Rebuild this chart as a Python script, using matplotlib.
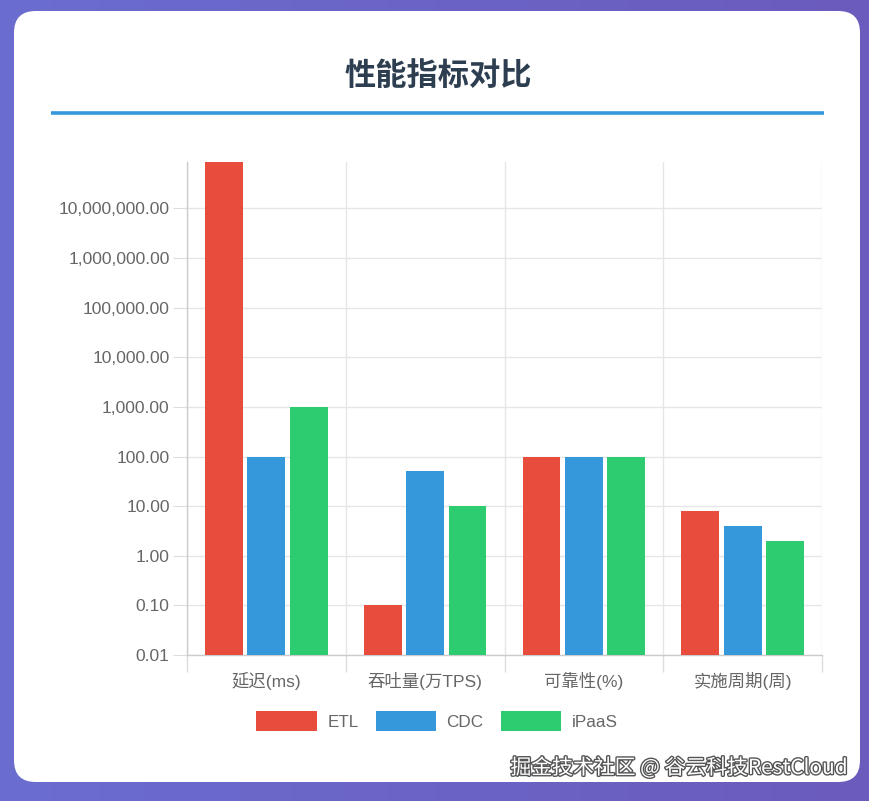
import numpy as np
import matplotlib
matplotlib.use("Agg")
import matplotlib.pyplot as plt
from matplotlib.patches import FancyBboxPatch
from matplotlib.ticker import FixedLocator, FuncFormatter
from matplotlib.colors import LinearSegmentedColormap
import matplotlib.patheffects as pe

plt.rcParams['font.family'] = ['Liberation Sans', 'Noto Sans CJK SC', 'DejaVu Sans']

categories = ["延迟(ms)", "吞吐量(万TPS)", "可靠性(%)", "实施周期(周)"]
series_names = ["ETL", "CDC", "iPaaS"]
etl = [86400000, 0.1, 99.9, 8]
cdc = [100, 50, 99.99, 4]
ipaas = [1000, 10, 99.9, 2]
series_values = [etl, cdc, ipaas]
colors = ["#e74c3c", "#3498db", "#2ecc71"]
y_ticks = [0.01, 0.1, 1, 10, 100, 1000, 10000, 100000, 1000000, 10000000]
title = "性能指标对比"
watermark = "掘金技术社区 @ 谷云科技RestCloud"

W, H = 870, 801
fig = plt.figure(figsize=(W / 100, H / 100), dpi=100)

# background gradient
bg = fig.add_axes([0, 0, 1, 1])
bg.set_axis_off()
grad = np.linspace(0, 1, 256).reshape(1, -1)
cmap = LinearSegmentedColormap.from_list("g", ["#6a6dcf", "#6a5bbd"])
bg.imshow(grad, aspect="auto", cmap=cmap, extent=[0, 1, 0, 1])
bg.set_xlim(0, 1)
bg.set_ylim(0, 1)

# white card
card = FancyBboxPatch((14 / W, 1 - 782 / H), (860 - 14) / W, (782 - 11) / H,
                      boxstyle="round,pad=0,rounding_size=0.025",
                      transform=bg.transAxes, facecolor="white", edgecolor="none",
                      mutation_aspect=W / H)
bg.add_patch(card)

# title and rule
fig.text(438 / W, 1 - 76 / H, title, ha="center", va="center", fontsize=22.5,
         fontweight="bold", color="#2c3e50", family=['Noto Sans CJK SC', 'DejaVu Sans'])
bg.plot([51 / W, 824 / W], [1 - 113 / H, 1 - 113 / H], color="#3498db", lw=2.6,
        solid_capstyle="butt")

# main axes
ax = fig.add_axes([187 / W, 1 - 655 / H, (822 - 187) / W, (655 - 162) / H])
x = np.arange(len(categories))
bw = 0.239
offs = [-0.267, 0, 0.267]
for vals, name, c, o in zip(series_values, series_names, colors, offs):
    ax.bar(x + o, vals, width=bw, color=c, label=name, zorder=3)

ax.set_yscale("log")
ax.set_ylim(0.01, 86400000)
ax.set_xlim(-0.5, 3.5)
ax.yaxis.set_major_locator(FixedLocator(y_ticks))
ax.yaxis.set_minor_locator(FixedLocator([]))
ax.yaxis.set_major_formatter(FuncFormatter(lambda v, p: f"{v:,.2f}"))
ax.set_xticks(x)
ax.set_xticklabels(categories)
ax.set_xticks(np.arange(-0.5, 4.0, 1.0), minor=True)
ax.tick_params(axis="x", which="major", length=0, pad=12.5, labelsize=12.5, colors="#666666")
ax.tick_params(axis="x", which="minor", length=12, color="#dddddd", width=1)
ax.tick_params(axis="y", which="major", length=10, color="#dddddd", pad=2.5,
               labelsize=12.6, labelcolor="#666666")
ax.grid(True, axis="y", which="major", color="#e6e6e6", lw=1, zorder=0)
ax.grid(True, axis="x", which="minor", color="#e6e6e6", lw=1, zorder=0)
for s in ["top", "right"]:
    ax.spines[s].set_visible(False)
for s in ["left", "bottom"]:
    ax.spines[s].set_color("#cccccc")
    ax.spines[s].set_linewidth(1)
ax.set_facecolor("none")

leg = fig.legend(loc="center", bbox_to_anchor=(437 / W, 1 - 721 / H), ncol=3, frameon=False,
                 handlelength=3.55, handleheight=1.35, handletextpad=0.6, columnspacing=1.0,
                 fontsize=12.3, labelcolor="#666666")

fig.text(848 / W, 1 - 768 / H, watermark, ha="right", va="center", fontsize=15,
         color="white", family=['Noto Sans CJK SC', 'DejaVu Sans'],
         path_effects=[pe.withStroke(linewidth=2, foreground="#555555")])

fig.savefig("out.png", dpi=100)
